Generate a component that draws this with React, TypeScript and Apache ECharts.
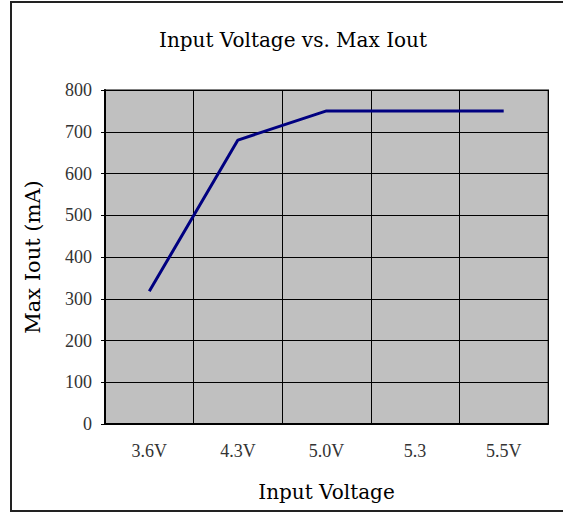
import React, { useEffect, useRef } from "react";
import * as echarts from "echarts";

const categories = ["3.6V", "4.3V", "5.0V", "5.3", "5.5V"];
const maxIout = [318, 680, 750, 750, 750];

export default function App() {
  const ref = useRef<HTMLDivElement>(null);
  useEffect(() => {
    if (!ref.current) return;
    const chart = echarts.init(ref.current, null, { renderer: "svg" });
    const font = "'Liberation Serif', 'DejaVu Serif', serif";
    const wide = "'DejaVu Serif', serif";
    chart.setOption({
      animation: false,
      backgroundColor: "#ffffff",
      title: {
        text: "Input Voltage vs. Max Iout",
        left: 288,
        textAlign: "center",
        top: 25,
        textStyle: { fontFamily: wide, fontSize: 20, fontWeight: "normal", color: "#000" },
      },
      graphic: [
        {
          type: "rect",
          shape: { x: 11, y: 2, width: 600, height: 509 },
          style: { fill: "none", stroke: "#222", lineWidth: 2 },
          silent: true,
        },
      ],
      grid: {
        left: 105,
        top: 90,
        right: 15,
        bottom: 89,
        show: true,
        backgroundColor: "#C0C0C0",
        borderColor: "#808080",
        borderWidth: 2,
      },
      xAxis: {
        type: "category",
        data: categories,
        boundaryGap: true,
        name: "Input Voltage",
        nameLocation: "middle",
        nameGap: 58,
        nameTextStyle: { fontFamily: wide, fontSize: 20, color: "#000" },
        axisLine: { lineStyle: { color: "#000", width: 2 } },
        axisTick: { show: false },
        axisLabel: { fontFamily: font, fontSize: 18, color: "#333", margin: 18 },
        splitLine: { show: true, lineStyle: { color: "#000", width: 1 } },
      },
      yAxis: {
        type: "value",
        min: 0,
        max: 800,
        interval: 100,
        name: "Max Iout (mA)",
        nameLocation: "middle",
        nameGap: 62,
        nameTextStyle: { fontFamily: wide, fontSize: 21, color: "#000" },
        axisLine: { show: true, lineStyle: { color: "#000", width: 2 } },
        axisTick: { show: true, length: 4, lineStyle: { color: "#000" } },
        axisLabel: { fontFamily: font, fontSize: 18, color: "#333", margin: 13 },
        splitLine: { show: true, lineStyle: { color: "#000", width: 1 } },
      },
      series: [
        {
          type: "line",
          data: maxIout,
          showSymbol: false,
          lineStyle: { color: "#000080", width: 3 },
        },
      ],
    });
    return () => chart.dispose();
  }, []);
  return (
    <div
      ref={ref}
      style={{ position: "fixed", left: 0, top: 0, width: 563, height: 513 }}
    />
  );
}
